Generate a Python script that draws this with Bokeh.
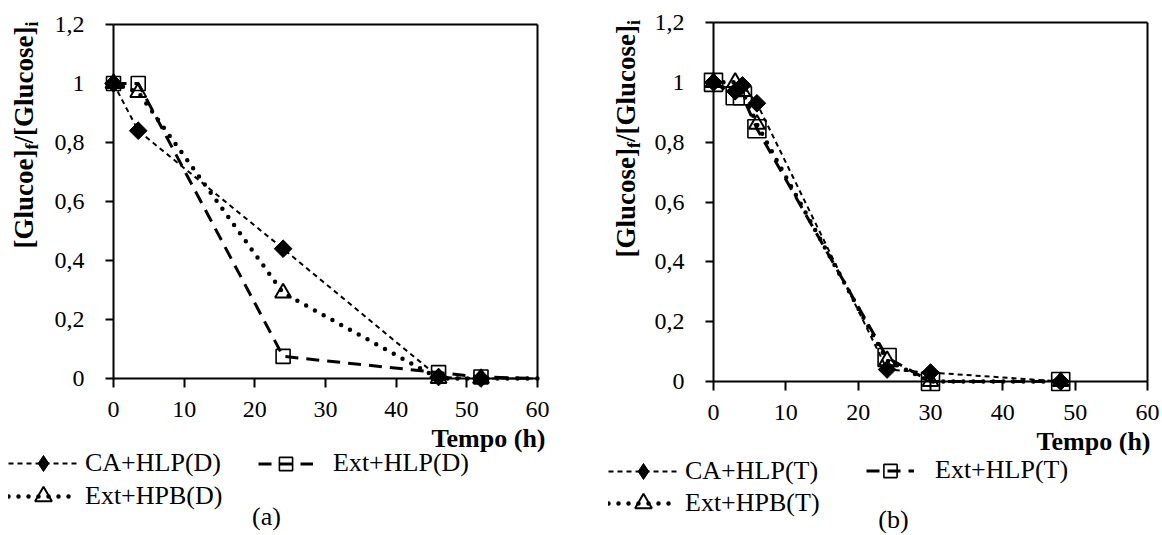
import numpy as np
from bokeh.plotting import figure
from bokeh.models import Range1d, LinearAxis, FixedTicker, Label, Legend, LegendItem
from bokeh.layouts import row
from bokeh.embed import file_html
from bokeh.resources import INLINE

# ---------------- data ----------------
x_ticks = [0, 10, 20, 30, 40, 50, 60]
y_ticks = [0, 0.2, 0.4, 0.6, 0.8, 1.0, 1.2]
y_tick_labels = ["0", "0,2", "0,4", "0,6", "0,8", "1", "1,2"]

# panel (a)
time_a = [0, 3.5, 24, 46, 52, 60]
ca_hlp_d = [1.0, 0.84, 0.44, 0.005, 0.0, 0.0]
ext_hlp_d = [1.0, 1.0, 0.075, 0.02, 0.005, 0.0]
ext_hpb_d = [1.0, 0.97, 0.29, 0.0, 0.0, 0.0]
labels_a = ["CA+HLP(D)", "Ext+HLP(D)", "Ext+HPB(D)"]

# panel (b)
time_b = [0, 3, 4, 6, 24, 30, 48]
ca_hlp_t = [1.0, 0.97, 0.99, 0.93, 0.04, 0.03, 0.0]
ext_hlp_t = [1.0, 0.955, 0.955, 0.845, 0.08, 0.0, 0.0]
ext_hpb_t = [1.0, 1.0, 0.97, 0.86, 0.07, 0.0, 0.0]
labels_b = ["CA+HLP(T)", "Ext+HLP(T)", "Ext+HPB(T)"]

FONT = "Liberation Serif"
H_TOTAL = 535
NAN = [float("nan")]

STYLE_CA = dict(line_color="black", line_width=2, line_dash="5 4")
STYLE_HLP = dict(line_color="black", line_width=3, line_dash="13 8")
STYLE_HPB = dict(line_color="black", line_width=4.5, line_dash="0 10", line_cap="round")


def make_panel(cfg):
    W = cfg["w"]
    px0, px60, py0, py12 = cfg["px0"], cfg["px60"], cfg["py0"], cfg["py12"]
    sx = (px60 - px0) / 60.0
    sy = (py0 - py12) / 1.2
    f_left, f_bottom = 0, H_TOTAL
    p = figure(
        frame_width=W, frame_height=H_TOTAL,
        min_border_left=0, min_border_right=0, min_border_top=0, min_border_bottom=0,
        x_range=Range1d(-px0 / sx, 60 + (W - px60) / sx),
        y_range=Range1d(-(H_TOTAL - py0) / sy, 1.2 + py12 / sy),
        x_axis_type=None, y_axis_type=None,
        output_backend="svg", toolbar_location=None,
        outline_line_color=None, background_fill_color="white", border_fill_color="white",
    )
    p.xgrid.visible = False
    p.ygrid.visible = False

    common = dict(axis_line_width=2, axis_line_color="black", major_tick_line_width=2,
                  major_tick_line_color="black", major_tick_in=0, minor_tick_in=0, minor_tick_out=0,
                  major_label_text_font=FONT, major_label_text_font_size="24px",
                  major_label_text_color="black")
    yax = LinearAxis(fixed_location=0, bounds=(0, 1.2), ticker=FixedTicker(ticks=y_ticks),
                     major_label_overrides={t: l for t, l in zip(y_ticks, y_tick_labels)},
                     major_tick_out=8, major_label_standoff=21, **common)
    xax = LinearAxis(fixed_location=0, bounds=(0, 60), ticker=FixedTicker(ticks=x_ticks),
                     major_tick_out=9, major_label_standoff=14, **common)
    p.add_layout(yax, "left")
    p.add_layout(xax, "below")
    border = dict(axis_line_width=2, axis_line_color="black", ticker=FixedTicker(ticks=[]),
                  major_tick_out=0, major_tick_in=0, minor_tick_in=0, minor_tick_out=0,
                  major_label_text_font_size="0px", major_label_standoff=0)
    p.add_layout(LinearAxis(fixed_location=1.2, bounds=(0, 60), **border), "above")
    p.add_layout(LinearAxis(fixed_location=60, bounds=(0, 1.2), **border), "right")

    t = cfg["time"]
    nm = cfg["n_markers"]
    ca, hlp, hpb = cfg["series"]
    sq = cfg["sq_size"]

    # Ext+HPB: dotted, open triangle
    p.line(t, hpb, **STYLE_HPB)
    p.scatter(t[:nm], hpb[:nm], marker="triangle", size=16, fill_color=None,
              line_color="black", line_width=2)
    # Ext+HLP: long dash, open square
    p.line(t, hlp, **STYLE_HLP)
    p.scatter(t[:nm], hlp[:nm], marker="square", size=sq, fill_color=None,
              line_color="black", line_width=1.6)
    # CA+HLP: short dash, filled diamond
    p.line(t, ca, **STYLE_CA)
    p.scatter(t[:nm], ca[:nm], marker="square", angle=np.pi / 4, size=cfg["dia_size"],
              fill_color="black", line_color="black", line_width=1)

    # legend swatches (renderers with no drawable point, they only carry the styles)
    lg_ca = [p.line(NAN, NAN, **STYLE_CA),
             p.scatter(NAN, NAN, marker="diamond", fill_color="black", line_color="black")]
    lg_hlp = [p.line(NAN, NAN, **STYLE_HLP),
              p.scatter(NAN, NAN, marker="square", fill_color=None, line_color="black", line_width=1.6)]
    lg_hpb = [p.line(NAN, NAN, **STYLE_HPB),
              p.scatter(NAN, NAN, marker="triangle", fill_color=None, line_color="black", line_width=2)]

    def add_legend(label, rends, glyph_left, cy, gw, standoff, gh):
        loc = (glyph_left - f_left, f_bottom - (cy + gh / 2.0))
        lg = Legend(items=[LegendItem(label=label, renderers=rends)], location=loc,
                    glyph_width=gw, glyph_height=gh, label_height=gh, label_standoff=standoff,
                    padding=0, margin=0, spacing=0, border_line_color=None,
                    background_fill_alpha=0, label_text_font=FONT,
                    label_text_font_size="26px", label_text_color="black")
        p.add_layout(lg)

    lgcfg = cfg["legend"]
    labels = cfg["labels"]
    add_legend(labels[0], lg_ca, *lgcfg[0], 40)
    add_legend(labels[1], lg_hlp, *lgcfg[1], 33)
    add_legend(labels[2], lg_hpb, *lgcfg[2], 42)

    def lab(text, cx, cy, size, bold=False, align="left", angle=0.0):
        corr = 0.36 * size  # baseline correction for Bokeh's text box placement
        if angle:
            cx -= corr
        else:
            cy -= corr
        p.add_layout(Label(x=cx - f_left, y=f_bottom - cy, x_units="screen", y_units="screen",
                           text=text, text_font=FONT, text_font_size=f"{size}px",
                           text_font_style="bold" if bold else "normal",
                           text_align=align, text_baseline="alphabetic", angle=angle,
                           text_color="black"))

    tx, ty = cfg["tempo"]
    lab("Tempo (h)", tx, ty, 26, bold=True, align="right")
    gx, gy = cfg["tag_pos"]
    lab(cfg["tag"], gx, gy, 26, align="center")

    bx, by = cfg["ylab"]
    big, small = 27, 18
    y = by
    for txt, sub in cfg["ytitle"]:
        if sub:
            lab(txt, bx + 5, y, small, bold=True, angle=np.pi / 2)
            y -= 0.333 * small if txt == "f" else 0.278 * small
        else:
            lab(txt, bx, y, big, bold=True, angle=np.pi / 2)
            w = {"[Glucoe]": 3.666, "[Glucose]": 4.055, "/": 0.278}[txt]
            y -= w * big
    return p


cfg_a = dict(w=580, px0=113, px60=537, py0=378, py12=24,
             time=time_a, n_markers=5, series=(ca_hlp_d, ext_hlp_d, ext_hpb_d), sq_size=14,
             dia_size=12.5, labels=labels_a,
             legend=[(8, 463, 70, 7), (258, 463, 55, 20), (8, 496, 70, 7)],
             tempo=(545, 447), tag="(a)", tag_pos=(266, 525), ylab=(33, 248),
             ytitle=[("[Glucoe]", False), ("f", True), ("/", False), ("[Glucose]", False), ("i", True)])

cfg_b = dict(w=582, px0=133, px60=567, py0=381, py12=22,
             time=time_b, n_markers=7, series=(ca_hlp_t, ext_hlp_t, ext_hpb_t), sq_size=18,
             dia_size=12.5, labels=labels_b,
             legend=[(28, 471, 70, 7), (286, 470, 48, 21), (28, 503, 70, 7)],
             tempo=(570, 450), tag="(b)", tag_pos=(313, 528), ylab=(55, 257),
             ytitle=[("[Glucose]", False), ("f", True), ("/", False), ("[Glucose]", False), ("i", True)])

pa = make_panel(cfg_a)
pb = make_panel(cfg_b)
layout = row(pa, pb)

open("out.html", "w").write(file_html(layout, INLINE))
